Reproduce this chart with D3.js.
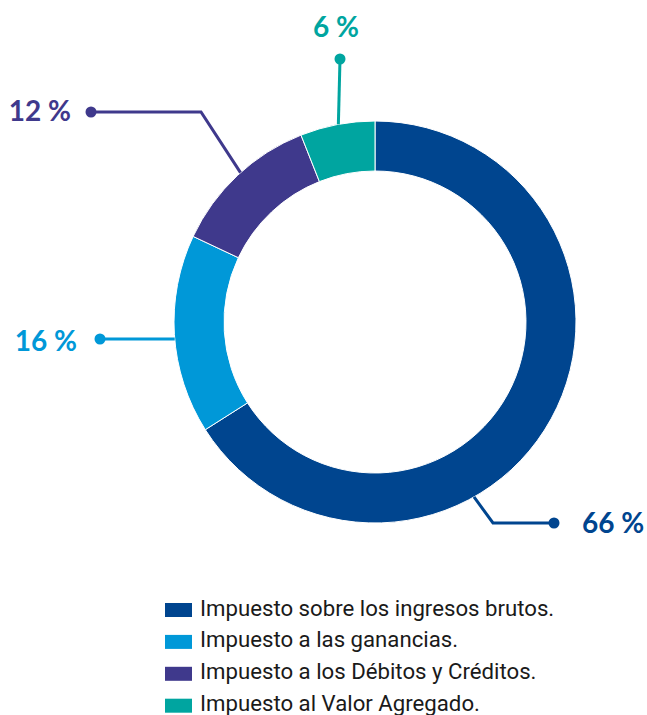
<!DOCTYPE html>
<html>
<head>
<meta charset="utf-8">
<script src="https://cdn.jsdelivr.net/npm/d3@7"></script>
<style>
  body { margin: 0; background: #fff; }
  .pct { font-family: Lato, "Open Sans", sans-serif; font-weight: 700; font-size: 28px; }
  .legend-text { font-family: Roboto, "Open Sans", sans-serif; font-size: 22.2px; fill: #1a1a1a; }
</style>
</head>
<body>
<svg id="chart"></svg>
<script>
// chart data
let categories = [
    "Impuesto sobre los ingresos brutos.",
    "Impuesto a las ganancias.",
    "Impuesto a los Débitos y Créditos.",
    "Impuesto al Valor Agregado."
]
let shares = [66, 16, 12, 6]
let shareLabels = ["66 %", "16 %", "12 %", "6 %"]
let colors = ["#00458f", "#0098d8", "#3f398c", "#00a5a0"]

let width = 647, height = 715
let cx = 375, cy = 322
let outerR = 201, innerR = 151

let svg = d3.select("#chart").attr("width", width).attr("height", height)
let g = svg.append("g").attr("transform", `translate(${cx}, ${cy})`)

// pie, clockwise from 12 o'clock
let pie = d3.pie().sort(null).value(d => d)
let arcs = pie(shares)
let arc = d3.arc().innerRadius(innerR).outerRadius(outerR)

g.selectAll("path.slice")
    .data(arcs)
    .enter().append("path")
    .attr("class", "slice")
    .attr("d", arc)
    .attr("fill", (d, i) => colors[i])
    .attr("stroke", "#fff")
    .attr("stroke-width", 1)

// leader lines: where they leave the ring (angle in degrees), elbow and end dot (relative to center)
let leaders = [
    { angle: 150.5, elbow: [118, 201], dot: [179, 201], text: [207, 211], anchor: "start" },
    { angle: 265.15, elbow: null, dot: [-275, 17], text: [-298, 29], anchor: "end" },
    { angle: 318, elbow: [-174, -210], dot: [-284, -210], text: [-304, -201], anchor: "end" },
    { angle: 349.5, elbow: null, dot: [-35, -263], text: [-39, -285], anchor: "middle" }
]

function ringPoint(deg) {
    let a = deg * Math.PI / 180
    return [outerR * Math.sin(a), -outerR * Math.cos(a)]
}

leaders.forEach(function(l, i) {
    let pts = [ringPoint(l.angle)]
    if (l.elbow) pts.push(l.elbow)
    pts.push(l.dot)
    g.append("path")
        .attr("d", d3.line()(pts))
        .attr("fill", "none")
        .attr("stroke", colors[i])
        .attr("stroke-width", 3)
    g.append("circle")
        .attr("cx", l.dot[0]).attr("cy", l.dot[1])
        .attr("r", 5.5)
        .attr("fill", colors[i])
    g.append("text")
        .attr("class", "pct")
        .attr("x", l.text[0]).attr("y", l.text[1])
        .attr("text-anchor", l.anchor)
        .attr("fill", colors[i])
        .text(shareLabels[i])
})

// legend
let legend = svg.append("g").attr("transform", "translate(165, 603)")
let rows = legend.selectAll("g")
    .data(categories)
    .enter().append("g")
    .attr("transform", (d, i) => `translate(0, ${i * 31.9})`)
rows.append("rect")
    .attr("width", 27).attr("height", 14)
    .attr("fill", (d, i) => colors[i])
rows.append("text")
    .attr("class", "legend-text")
    .attr("x", 35).attr("y", 12.5)
    .text(d => d)
</script>
</body>
</html>
